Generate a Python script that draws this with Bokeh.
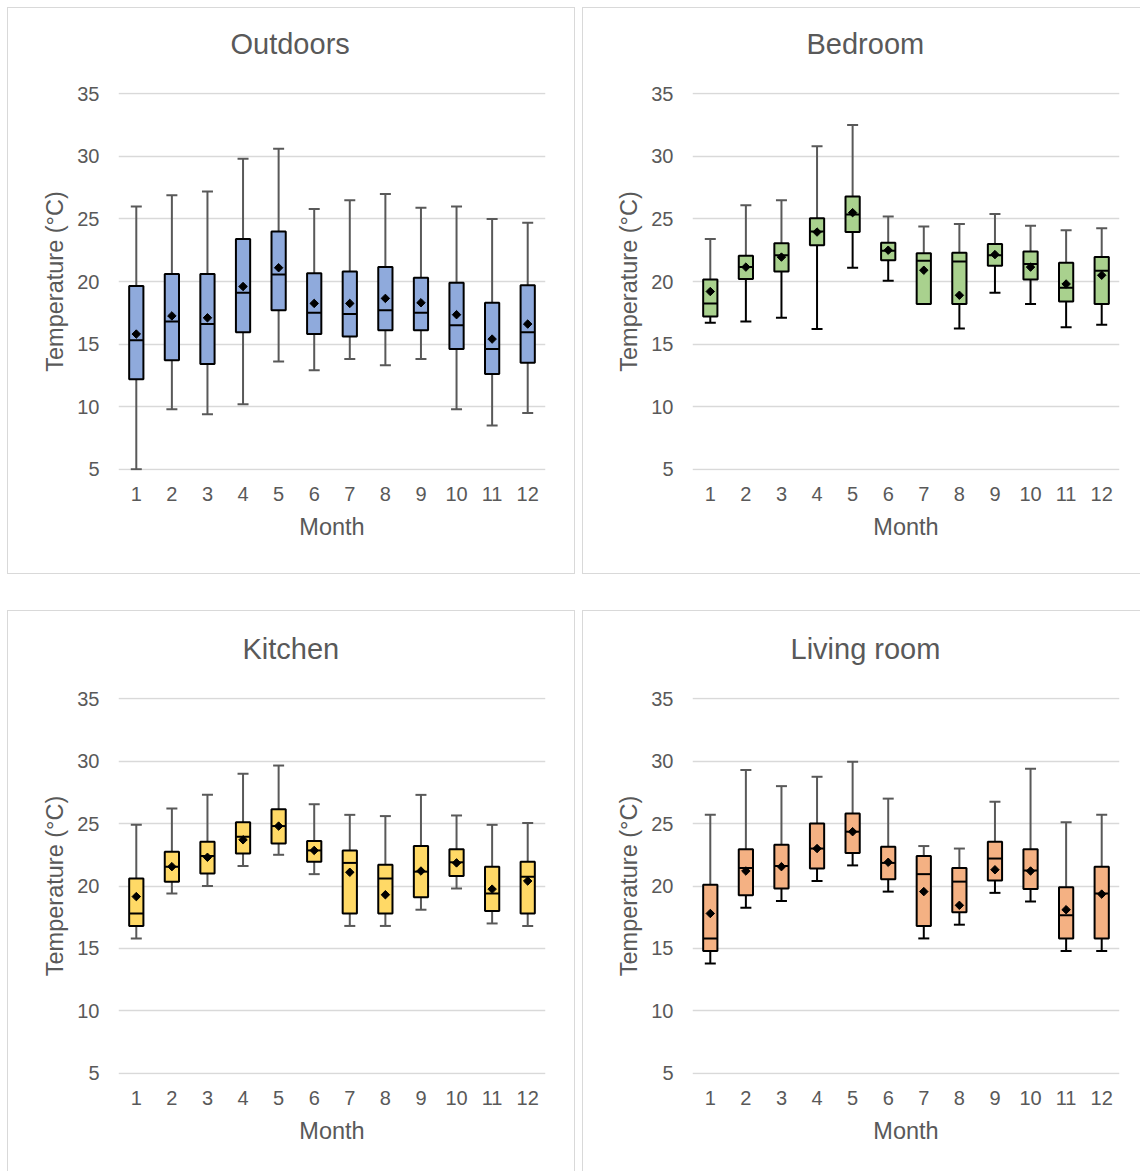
import numpy as np
from bokeh.plotting import figure
from bokeh.layouts import column, row
from bokeh.models import Range1d, FixedTicker, ColumnDataSource, Title
from bokeh.embed import file_html
from bokeh.resources import INLINE

# ---------------- data ----------------
months = [1, 2, 3, 4, 5, 6, 7, 8, 9, 10, 11, 12]
y_ticks = [5, 10, 15, 20, 25, 30, 35]
rooms = ["Outdoors", "Bedroom", "Kitchen", "Living room"]

outdoors_min = [5.0, 9.8, 9.4, 10.2, 13.6, 12.9, 13.8, 13.3, 13.8, 9.8, 8.5, 9.5]
outdoors_q1 = [12.2, 13.7, 13.4, 15.95, 17.7, 15.8, 15.6, 16.1, 16.1, 14.6, 12.6, 13.5]
outdoors_median = [15.3, 16.8, 16.6, 19.1, 20.55, 17.5, 17.4, 17.7, 17.5, 16.5, 14.6, 15.95]
outdoors_q3 = [19.65, 20.6, 20.6, 23.4, 24.0, 20.65, 20.8, 21.15, 20.3, 19.9, 18.3, 19.7]
outdoors_max = [26.0, 26.9, 27.2, 29.8, 30.6, 25.8, 26.5, 27.0, 25.9, 26.0, 25.0, 24.7]
outdoors_mean = [15.8, 17.25, 17.1, 19.6, 21.1, 18.25, 18.25, 18.65, 18.3, 17.35, 15.4, 16.6]

bedroom_min = [16.7, 16.8, 17.1, 16.2, 21.1, 20.05, 18.2, 16.25, 19.1, 18.2, 16.35, 16.55]
bedroom_q1 = [17.2, 20.2, 20.8, 22.9, 23.95, 21.7, 18.2, 18.2, 21.25, 20.15, 18.4, 18.2]
bedroom_median = [18.25, 21.15, 22.1, 24.0, 25.35, 22.45, 21.65, 21.6, 22.1, 21.4, 19.5, 20.85]
bedroom_q3 = [20.15, 22.05, 23.05, 25.05, 26.8, 23.1, 22.25, 22.3, 23.0, 22.4, 21.5, 21.95]
bedroom_max = [23.4, 26.1, 26.5, 30.8, 32.5, 25.2, 24.4, 24.6, 25.4, 24.45, 24.1, 24.25]
bedroom_mean = [19.2, 21.15, 21.95, 23.95, 25.5, 22.5, 20.9, 18.9, 22.15, 21.15, 19.8, 20.5]

kitchen_min = [15.8, 19.4, 20.0, 21.6, 22.5, 20.95, 16.8, 16.8, 18.1, 19.8, 17.0, 16.8]
kitchen_q1 = [16.8, 20.35, 21.0, 22.6, 23.4, 21.95, 17.8, 17.8, 19.1, 20.8, 18.0, 17.8]
kitchen_median = [17.8, 21.55, 22.4, 23.95, 24.8, 22.85, 21.85, 20.6, 21.15, 21.9, 19.4, 20.75]
kitchen_q3 = [20.6, 22.75, 23.55, 25.1, 26.15, 23.6, 22.85, 21.7, 23.2, 22.95, 21.55, 21.95]
kitchen_max = [24.9, 26.2, 27.3, 29.0, 29.65, 26.55, 25.7, 25.6, 27.3, 25.65, 24.9, 25.05]
kitchen_mean = [19.15, 21.55, 22.3, 23.7, 24.8, 22.85, 21.1, 19.3, 21.2, 21.85, 19.75, 20.4]

living_min = [13.8, 18.25, 18.8, 20.4, 21.65, 19.55, 15.8, 16.9, 19.45, 18.75, 14.8, 14.8]
living_q1 = [14.8, 19.25, 19.8, 21.4, 22.65, 20.55, 16.8, 17.9, 20.45, 19.75, 15.8, 15.8]
living_median = [15.8, 21.45, 21.6, 23.0, 24.35, 21.85, 20.95, 20.35, 22.2, 21.25, 17.65, 19.4]
living_q3 = [20.1, 22.95, 23.3, 25.0, 25.8, 23.15, 22.4, 21.45, 23.55, 22.95, 19.9, 21.55]
living_max = [25.7, 29.3, 28.0, 28.75, 29.95, 27.0, 23.2, 23.0, 26.75, 29.4, 25.1, 25.7]
living_mean = [17.8, 21.2, 21.55, 23.0, 24.35, 21.9, 19.55, 18.45, 21.3, 21.2, 18.1, 19.35]

data_sets = [
    (outdoors_min, outdoors_q1, outdoors_median, outdoors_q3, outdoors_max, outdoors_mean),
    (bedroom_min, bedroom_q1, bedroom_median, bedroom_q3, bedroom_max, bedroom_mean),
    (kitchen_min, kitchen_q1, kitchen_median, kitchen_q3, kitchen_max, kitchen_mean),
    (living_min, living_q1, living_median, living_q3, living_max, living_mean),
]

# ---------------- styles ----------------
fills = ["#8FAADC", "#A9D18E", "#FFD966", "#F4B183"]
lower_whisker_colors = ["#595959", "#000000", "#595959", "#000000"]
TEXT = "#595959"
GRID = "#D9D9D9"
FONT = "Liberation Sans"
BOX_W = 0.4


def make_panel(idx, width, height, mb_left, mb_right, mb_top, mb_bottom, title_offset, styles):
    mn, q1, med, q3, mx, mean = [np.array(a, dtype=float) for a in data_sets[idx]]
    m = np.array(months, dtype=float)
    src = ColumnDataSource(dict(m=m, mn=mn, q1=q1, med=med, q3=q3, mx=mx, mean=mean,
                                left=m - BOX_W / 2, right=m + BOX_W / 2))
    p = figure(width=width, height=height, output_backend="svg", toolbar_location=None,
               x_range=Range1d(0.5, 12.5), y_range=Range1d(4.9, 35.1),
               min_border_left=mb_left, min_border_right=mb_right,
               min_border_top=mb_top, min_border_bottom=mb_bottom,
               title=rooms[idx], styles=styles)
    p.outline_line_color = None
    p.background_fill_color = "white"
    p.border_fill_color = "white"

    p.title.align = "left"
    p.title.offset = title_offset
    p.title.text_font = FONT
    p.title.text_font_size = "29px"
    p.title.text_font_style = "normal"
    p.title.text_color = TEXT
    p.title.standoff = 10
    # empty spacer between title and plot area
    p.add_layout(Title(text=" ", text_font_size="1px", standoff=25), "above")

    p.xgrid.grid_line_color = None
    p.ygrid.grid_line_color = GRID
    p.ygrid.grid_line_width = 1.5
    p.ygrid.ticker = FixedTicker(ticks=y_ticks)

    p.xaxis.ticker = FixedTicker(ticks=months)
    p.yaxis.ticker = FixedTicker(ticks=y_ticks)
    for ax in (p.xaxis[0], p.yaxis[0]):
        ax.major_tick_line_color = None
        ax.minor_tick_line_color = None
        ax.major_label_text_font = FONT
        ax.major_label_text_font_size = "20px"
        ax.major_label_text_color = TEXT
        ax.axis_label_text_font = FONT
        ax.axis_label_text_font_size = "23.5px"
        ax.axis_label_text_font_style = "normal"
        ax.axis_label_text_color = TEXT
    p.xaxis.major_label_standoff = 10
    p.yaxis.major_label_standoff = 13
    p.xaxis.axis_line_color = None
    p.yaxis.axis_line_color = None
    p.xaxis.axis_label = "Month"
    p.yaxis.axis_label = "Temperature (°C)"
    p.xaxis.axis_label_standoff = 10
    p.yaxis.axis_label_standoff = 6

    # whiskers
    p.segment(x0="m", y0="q3", x1="m", y1="mx", source=src, line_color="#595959", line_width=2)
    p.scatter(x="m", y="mx", source=src, marker="dash", size=11, line_color="#595959", line_width=2)
    lc = lower_whisker_colors[idx]
    p.segment(x0="m", y0="mn", x1="m", y1="q1", source=src, line_color=lc, line_width=2)
    p.scatter(x="m", y="mn", source=src, marker="dash", size=11, line_color=lc, line_width=2)
    # boxes
    p.vbar(x="m", width=BOX_W, bottom="q1", top="q3", source=src,
           fill_color=fills[idx], line_color="black", line_width=2)
    # medians
    p.segment(x0="left", y0="med", x1="right", y1="med", source=src, line_color="black", line_width=2)
    # means
    p.scatter(x="m", y="mean", source=src, marker="square", angle=np.pi / 4, size=6,
              fill_color="black", line_color="black")
    return p


b = "1px solid #D9D9D9"
p1 = make_panel(0, 568, 567, 110, 31, 84, 105, 112, {"border": b})
p2 = make_panel(1, 558, 567, 109, 22, 84, 105, 114,
                {"border-top": b, "border-left": b, "border-bottom": b})
p3 = make_panel(2, 568, 561, 110, 31, 86, 98, 124,
                {"border-top": b, "border-left": b, "border-right": b})
p4 = make_panel(3, 558, 561, 109, 22, 86, 98, 98,
                {"border-top": b, "border-left": b})

layout = column(row(p1, p2, spacing=7), row(p3, p4, spacing=7), spacing=36,
                margin=(7, 0, 0, 7))

open("out.html", "w").write(file_html(layout, INLINE))
